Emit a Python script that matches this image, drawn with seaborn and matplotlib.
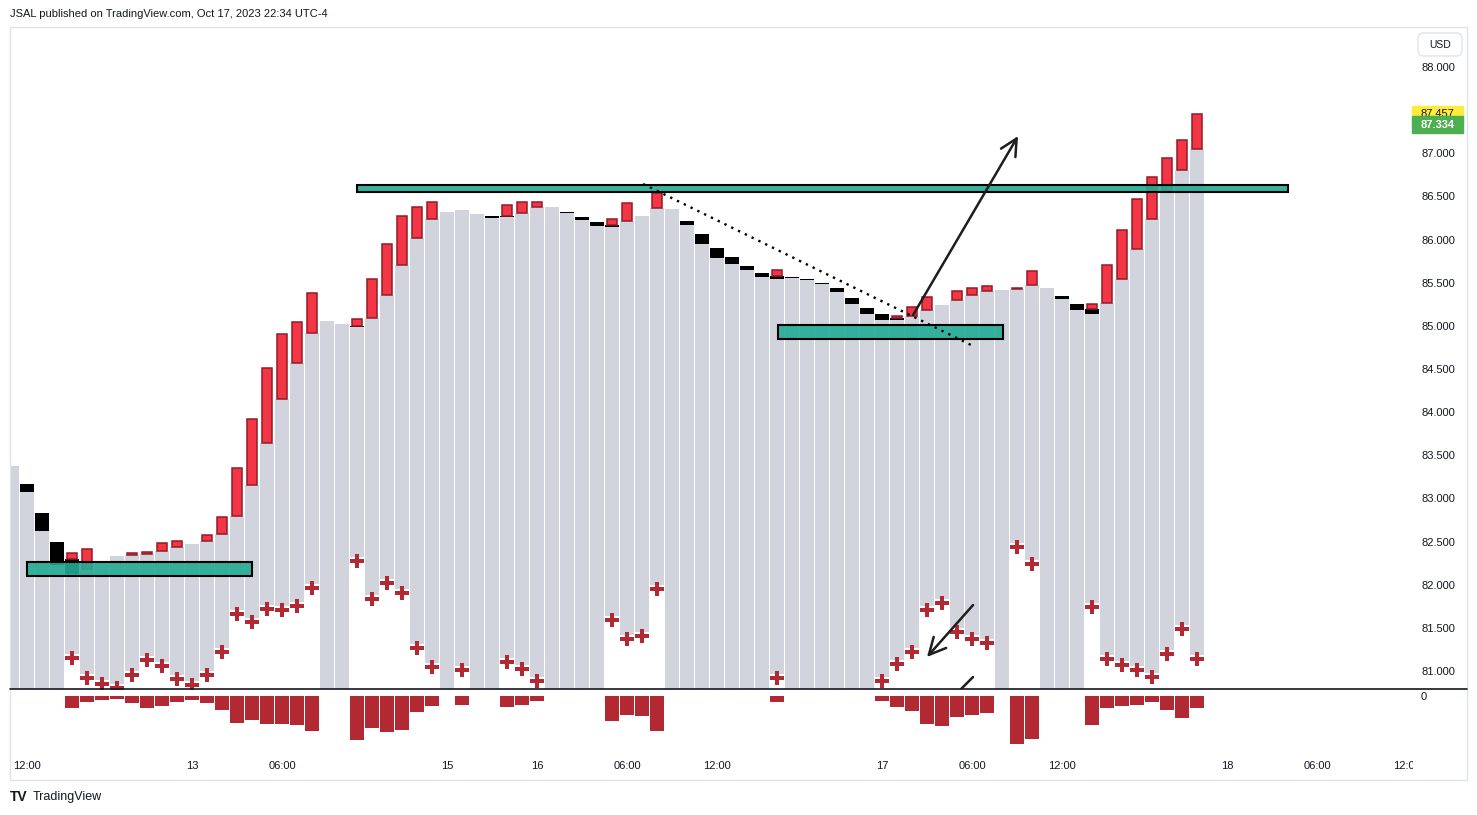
import numpy as np
import pandas as pd
import matplotlib
matplotlib.use("Agg")
import matplotlib.pyplot as plt
from matplotlib.patches import Rectangle, FancyBboxPatch
from matplotlib.lines import Line2D
from matplotlib.colors import to_rgba
from matplotlib.transforms import Bbox, blended_transform_factory
import seaborn as sns

# hourly bars, index 0 = Oct 12 12:00
bar_idx = list(range(-1, 79))

# top of the grey body for each bar
gray_top = [83.376, 83.075, 82.623, 82.229, 82.124, 82.182, 82.275, 82.333, 82.345, 82.356,
            82.391, 82.437, 82.472, 82.507, 82.588, 82.797, 83.156, 83.643, 84.153, 84.570,
            84.917, 85.056, 85.022, 84.987, 85.091, 85.358, 85.705, 86.018, 86.239, 86.320,
            86.343, 86.296, 86.250, 86.262, 86.308, 86.378, 86.378, 86.308, 86.227, 86.157,
            86.146, 86.215, 86.273, 86.366, 86.354, 86.169, 85.949, 85.787, 85.717, 85.647,
            85.566, 85.543, 85.555, 85.532, 85.485, 85.393, 85.253, 85.138, 85.068, 85.068,
            85.114, 85.184, 85.242, 85.300, 85.358, 85.404, 85.416, 85.427, 85.474, 85.439,
            85.311, 85.184, 85.138, 85.265, 85.543, 85.891, 86.239, 86.551, 86.806, 87.050]

# red (up) boxes sitting on top of the grey body
red_idx = [3, 4, 7, 8, 9, 10, 12, 13, 14, 15, 16, 17, 18, 19, 22, 23, 24, 25, 26, 27,
           32, 33, 34, 39, 40, 42, 50, 58, 59, 60, 62, 63, 64, 66, 67, 71, 72, 73, 74, 75,
           76, 77, 78]
red_hi = [82.368, 82.414, 82.368, 82.379, 82.484, 82.507, 82.576, 82.785, 83.353, 83.921,
          84.512, 84.906, 85.045, 85.381, 85.080, 85.543, 85.949, 86.273, 86.378, 86.435,
          86.401, 86.435, 86.435, 86.239, 86.424, 86.540, 85.647, 85.114, 85.219, 85.335,
          85.404, 85.439, 85.462, 85.439, 85.636, 85.253, 85.705, 86.111, 86.470, 86.725,
          86.945, 87.154, 87.455]

# black (down) boxes
black_idx = [0, 1, 2, 3, 22, 31, 32, 36, 37, 38, 39, 44, 45, 46, 47, 48, 49, 50, 51, 52,
             53, 54, 55, 56, 57, 58, 69, 70, 71]
black_hi = [83.167, 82.831, 82.495, 82.298, 84.998, 86.273, 86.273, 86.320, 86.262, 86.204,
            86.169, 86.215, 86.065, 85.902, 85.798, 85.694, 85.613, 85.578, 85.566, 85.543,
            85.497, 85.439, 85.323, 85.207, 85.138, 85.091, 85.346, 85.253, 85.196]

# cross markers (bar low) and the delta histogram of the lower pane
mark_idx = [3, 4, 5, 6, 7, 8, 9, 10, 11, 12, 13, 14, 15, 16, 17, 18, 19,
            22, 23, 24, 25, 26, 27, 29, 32, 33, 34, 39, 40, 41, 42, 50,
            57, 58, 59, 60, 61, 62, 63, 64, 66, 67, 71, 72, 73, 74, 75, 76, 77, 78]
mark_val = [81.151, 80.919, 80.850, 80.803, 80.954, 81.128, 81.058, 80.908, 80.838, 80.954,
            81.221, 81.661, 81.568, 81.719, 81.707, 81.754, 81.962,
            82.275, 81.835, 82.020, 81.904, 81.267, 81.047, 81.012, 81.105, 81.024, 80.884,
            81.591, 81.371, 81.406, 81.951, 80.919,
            80.884, 81.082, 81.221, 81.707, 81.788, 81.452, 81.371, 81.325, 82.437, 82.240,
            81.742, 81.140, 81.070, 81.012, 80.931, 81.197, 81.487, 81.140]
hist_val = [-12, -6, -4, -3, -7, -12, -10, -6, -4, -7, -14, -27, -24, -28, -28, -29, -35,
            -44, -32, -36, -34, -16, -10, -9, -11, -9, -5, -25, -19, -20, -35, -6,
            -5, -11, -15, -28, -30, -21, -19, -17, -48, -43, -29, -12, -10, -9, -6, -14, -22, -12]

price_ticks = [81.0, 81.5, 82.0, 82.5, 83.0, 83.5, 84.0, 84.5, 85.0, 85.5, 86.0, 86.5, 87.0, 87.5, 88.0]
time_pos = [0, 11, 17, 28, 34, 40, 46, 57, 63, 69, 80, 86, 92]
time_lab = ['12:00', '13', '06:00', '15', '16', '06:00', '12:00', '17', '06:00', '12:00', '18', '06:00', '12:00']

last_price = 87.457
ma_price = 87.334

# zones drawn on the chart: (x0, x1, lo, hi)
zones = [(0, 15, 82.101, 82.264), (22, 84.07, 86.551, 86.633), (50.07, 65.07, 84.848, 85.010)]

GRAY = '#D1D4DC'
RED = '#F23645'
DARK_RED = '#B22833'
TEAL = '#22AB94'
TXT = '#131722'

sns.set_theme(style='white')
plt.rcParams['font.family'] = ['Liberation Sans', 'DejaVu Sans']

W, H = 1477, 815
fig = plt.figure(figsize=(W / 100, H / 100), dpi=100)
fx = lambda px: px / W
fy = lambda py: 1 - py / H

ax = fig.add_axes([fx(10), fy(689), (1413 - 10) / W, (689 - 27) / H])
axh = fig.add_axes([fx(10), fy(752), (1413 - 10) / W, (752 - 689) / H])

ymin, ymax = 80.792, 88.464
mark_gap = 0.05

df = pd.DataFrame({'top': gray_top}, index=bar_idx)
df['bottom'] = ymin - 0.3
df.loc[mark_idx, 'bottom'] = np.array(mark_val) + mark_gap
df['black_hi'] = np.nan
df.loc[black_idx, 'black_hi'] = black_hi
df['red_hi'] = np.nan
df.loc[red_idx, 'red_hi'] = red_hi

# grey bodies
ax.bar(df.index, df['top'] - df['bottom'], bottom=df['bottom'], width=0.93,
       color=GRAY, linewidth=0, zorder=1)

# black boxes
blk = df.dropna(subset=['black_hi'])
ax.bar(blk.index, blk['black_hi'] - blk['top'], bottom=blk['top'], width=0.93,
       color='black', linewidth=0, zorder=2)

# red boxes
red = df.dropna(subset=['red_hi'])
red_lo = np.fmax(red['top'], red['black_hi'].fillna(0))
ax.bar(red.index, red['red_hi'] - red_lo, bottom=red_lo, width=0.72,
       color=RED, edgecolor='#951B28', linewidth=1.1, zorder=2)

# crosses
sns.scatterplot(x=mark_idx, y=mark_val, marker='P', s=105, color=DARK_RED,
                linewidth=0, ax=ax, zorder=3, legend=False)

# zones
for x0, x1, lo, hi in zones:
    ax.add_patch(Rectangle((x0, lo), x1 - x0, hi - lo, facecolor=to_rgba(TEAL, 0.9),
                           edgecolor='black', linewidth=1.5, zorder=4))

# trend line and arrows
ax.plot([41.07, 63.07], [86.645, 84.767], color='black', lw=1.7,
        ls=(0, (1, 2.2)), zorder=5)
arrow = dict(arrowstyle='->,head_length=0.6,head_width=0.3', color='#1e1e1e',
             lw=1.8, shrinkA=0, shrinkB=0, mutation_scale=20)
ax.annotate('', xy=(66.07, 87.20), xytext=(59.07, 85.126), arrowprops=arrow, zorder=6)
ax.annotate('', xy=(60.0, 81.163), xytext=(63.07, 81.765), arrowprops=arrow, zorder=6)
ax.plot([63.07, 61.8], [80.931, 80.71], color='#1e1e1e', lw=1.8, zorder=6)

# lower pane histogram
sns.barplot(x=mark_idx, y=hist_val, native_scale=True, orient='x', width=0.93,
            color=DARK_RED, saturation=1, errorbar=None, linewidth=0, ax=axh)

xlim = (-1.133, 92.4)
ax.set_xlim(*xlim)
axh.set_xlim(*xlim)
ax.set_ylim(ymin, ymax)
axh.set_ylim(-56, 7)

for a in (ax, axh):
    for s in a.spines.values():
        s.set_visible(False)
    a.set_xticks([])
    a.set_xlabel('')
    a.set_ylabel('')
    a.set_facecolor('none')
    a.yaxis.tick_right()
    a.tick_params(axis='y', length=0, pad=5.8, labelsize=8, labelcolor=TXT)

ax.set_yticks(price_ticks)
ax.set_yticklabels([f'{v:.3f}' for v in price_ticks])
axh.set_yticks([0])
axh.set_yticklabels(['0'])

# time axis labels
tr = blended_transform_factory(axh.transData, fig.transFigure)
clip = Bbox.from_extents(10, 0, 1413, H)
for p, lab in zip(time_pos, time_lab):
    t = axh.text(p, fy(766), lab, transform=tr, ha='center', va='center',
                 fontsize=8, color=TXT)
    t.set_clip_box(clip)
    t.set_clip_on(True)

# price labels on the scale
trp = blended_transform_factory(ax.transAxes, ax.transData)
box_h = 16 / 86.29
ax.add_patch(Rectangle((0.9995, last_price - box_h / 2), 0.036, box_h, transform=trp,
                       color='#FFEB3B', clip_on=False, zorder=7))
ax.text(1.0057, last_price, f'{last_price:.3f}', transform=trp, va='center', ha='left',
        fontsize=8, color=TXT, clip_on=False, zorder=8)
ax.add_patch(Rectangle((0.9995, ma_price - box_h / 2), 0.036, box_h + 0.01, transform=trp,
                       color='#4CAF50', clip_on=False, zorder=9))
ax.text(1.0057, ma_price, f'{ma_price:.3f}', transform=trp, va='center', ha='left',
        fontsize=8, color='white', fontweight='bold', clip_on=False, zorder=10)

# frame, pane separator, currency button
fig.add_artist(Rectangle((fx(10), fy(780)), (1467 - 10) / W, (780 - 27) / H,
                         transform=fig.transFigure, fill=False, edgecolor='#E0E3EB', lw=1))
fig.add_artist(Line2D([fx(10), fx(1467)], [fy(689), fy(689)], color=TXT, lw=1.2))
fig.add_artist(FancyBboxPatch((fx(1418), fy(56)), (1462 - 1418) / W, 23 / H,
                              boxstyle='round,pad=0,rounding_size=0.004',
                              mutation_aspect=W / H, transform=fig.transFigure,
                              facecolor='white', edgecolor='#E0E3EB', lw=1))
fig.text(fx(1440), fy(44.5), 'USD', ha='center', va='center', fontsize=7.5, color=TXT)

fig.text(fx(10), fy(14), 'JSAL published on TradingView.com, Oct 17, 2023 22:34 UTC-4',
         ha='left', va='center', fontsize=8, color=TXT)
fig.text(fx(10), fy(797), 'TV', ha='left', va='center', fontsize=10,
         fontweight='heavy', color=TXT)
fig.text(fx(33), fy(797), 'TradingView', ha='left', va='center', fontsize=9, color=TXT)

fig.savefig('out.png', dpi=100, facecolor='white')
